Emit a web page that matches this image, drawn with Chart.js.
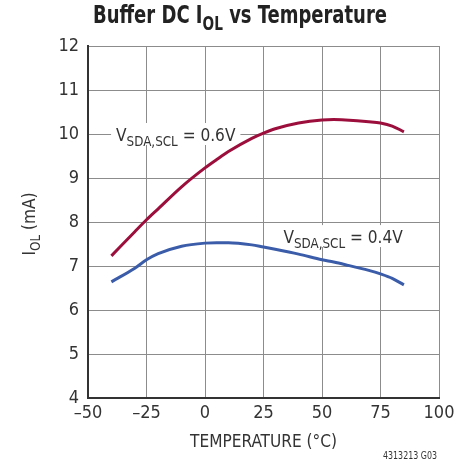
<!DOCTYPE html>
<html>
<head>
<meta charset="utf-8">
<script src="https://cdn.jsdelivr.net/npm/chart.js@4"></script>
<style>
body { margin: 0; background: #fff; }
</style>
</head>
<body>
<canvas id="chart-1" width="471" height="470"></canvas>
<script>
const FONT = '"Liberation Sans Narrow", "DejaVu Sans Condensed", "Liberation Sans", sans-serif';

const temps = [-40, -30, -25, -20, -10, 0, 5, 10, 20, 25, 30, 40, 50, 55, 60, 70, 75, 80, 85];
const iol06 = [7.23, 7.78, 8.05, 8.3, 8.8, 9.23, 9.42, 9.6, 9.9, 10.02, 10.12, 10.25, 10.32, 10.33, 10.32, 10.28, 10.25, 10.18, 10.05];
const iol04 = [6.64, 6.95, 7.14, 7.28, 7.45, 7.52, 7.53, 7.53, 7.48, 7.43, 7.38, 7.27, 7.14, 7.09, 7.03, 6.9, 6.82, 6.72, 6.57];
const xTicks = [-50, -25, 0, 25, 50, 75, 100];
const yTicks = [4, 5, 6, 7, 8, 9, 10, 11, 12];

function toPoints(xs, ys) {
    return xs.map((x, i) => ({ x: x, y: ys[i] }));
}

// text pieces, some as subscripts, squeezed sideways by hs
function richWidth(ctx, parts, size, subSize, weight) {
    let w = 0;
    parts.forEach(p => {
        ctx.font = weight + ' ' + (p.sub ? subSize : size) + 'px ' + FONT;
        w += ctx.measureText(p.t).width;
    });
    return w;
}
function drawRich(ctx, parts, x, y, size, subSize, weight, hs) {
    const w = richWidth(ctx, parts, size, subSize, weight);
    ctx.save();
    ctx.translate(x, y);
    ctx.scale(hs, 1);
    let cx = -w / 2;
    ctx.textBaseline = 'alphabetic';
    ctx.textAlign = 'left';
    parts.forEach(p => {
        ctx.font = weight + ' ' + (p.sub ? subSize : size) + 'px ' + FONT;
        ctx.fillText(p.t, cx, p.sub ? size * 0.28 : 0);
        cx += ctx.measureText(p.t).width;
    });
    ctx.restore();
    return w * hs;
}

const labels = [
    { x: -12.5, y: 10, parts: [{ t: 'V' }, { t: 'SDA,SCL', sub: true }, { t: ' = 0.6V' }] },
    { x: 59, y: 7.68, parts: [{ t: 'V' }, { t: 'SDA,SCL', sub: true }, { t: ' = 0.4V' }] }
];

const annotations = {
    id: 'annotations',
    beforeDatasetsDraw(chart) {
        const ctx = chart.ctx;
        const xs = chart.scales.x, ys = chart.scales.y;
        ctx.save();
        labels.forEach(l => {
            const px = xs.getPixelForValue(l.x), py = ys.getPixelForValue(l.y);
            const w = richWidth(ctx, l.parts, 18, 14, 'normal') * 0.95;
            ctx.fillStyle = '#fff';
            ctx.fillRect(px - w / 2 - 5, py - 11, w + 10, 22);
            ctx.fillStyle = '#333';
            drawRich(ctx, l.parts, px, py + 7, 18, 14, 'normal', 0.95);
        });
        ctx.restore();
    },
    afterDraw(chart) {
        const ctx = chart.ctx;
        const area = chart.chartArea;
        ctx.save();
        ctx.fillStyle = '#222';
        drawRich(ctx, [{ t: 'Buffer DC I' }, { t: 'OL', sub: true }, { t: ' vs Temperature' }],
            240, 23, 25, 19, 'bold', 0.8);

        ctx.fillStyle = '#333';
        drawRich(ctx, [{ t: 'TEMPERATURE (°C)' }], (area.left + area.right) / 2, 447, 18, 14, 'normal', 0.95);

        ctx.translate(35, 224);
        ctx.rotate(-Math.PI / 2);
        drawRich(ctx, [{ t: 'I' }, { t: 'OL', sub: true }, { t: ' (mA)' }], 0, 0, 18, 14, 'normal', 0.95);
        ctx.restore();

        ctx.save();
        ctx.fillStyle = '#333';
        drawRich(ctx, [{ t: '4313213 G03' }], 410, 459, 11, 9, 'normal', 0.8);
        ctx.restore();
    }
};

const ctx = document.getElementById('chart-1').getContext('2d');

var myChart = new Chart(ctx, {
    type: 'scatter',
    data: {
        datasets: [
            {
                label: '0.6V',
                data: toPoints(temps, iol06),
                showLine: true,
                borderColor: '#9c0f3d',
                borderWidth: 3,
                pointRadius: 0,
                cubicInterpolationMode: 'monotone'
            },
            {
                label: '0.4V',
                data: toPoints(temps, iol04),
                showLine: true,
                borderColor: '#3a5ca9',
                borderWidth: 3,
                pointRadius: 0,
                cubicInterpolationMode: 'monotone'
            }
        ]
    },
    plugins: [annotations],
    options: {
        responsive: false,
        animation: false,
        layout: {
            padding: { top: 46, right: 32, left: 0, bottom: 0 }
        },
        plugins: {
            legend: { display: false },
            title: { display: false },
            tooltip: { enabled: false }
        },
        scales: {
            x: {
                type: 'linear',
                min: -50,
                max: 100,
                afterBuildTicks: s => { s.ticks = xTicks.map(v => ({ value: v })); },
                afterFit: s => { s.height = 72; },
                ticks: {
                    padding: 5,
                    color: '#333',
                    font: { family: FONT, size: 18 },
                    callback: v => String(v).replace('-', '\u2013')
                },
                grid: { color: '#8c8c8c', lineWidth: 1, drawTicks: false },
                border: { color: '#333', width: 2 }
            },
            y: {
                min: 4,
                max: 12,
                afterBuildTicks: s => { s.ticks = yTicks.map(v => ({ value: v })); },
                afterFit: s => { s.width = 88; },
                ticks: {
                    padding: 9,
                    color: '#333',
                    font: { family: FONT, size: 18 }
                },
                grid: { color: '#8c8c8c', lineWidth: 1, drawTicks: false },
                border: { color: '#333', width: 2 }
            }
        }
    }
});
</script>
</body>
</html>
